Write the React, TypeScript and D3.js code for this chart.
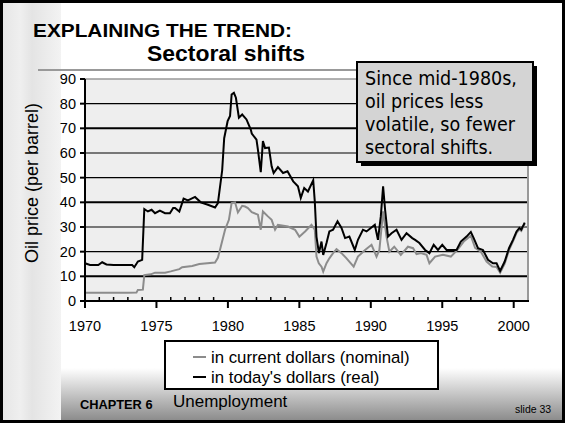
import React from 'react';
import * as d3 from 'd3';

// [year, $ per barrel]
const nominal: [number, number][] = [
  [1970.0, 3.3], [1971.0, 3.3], [1972.0, 3.3], [1973.0, 3.3], [1973.6, 3.4], [1973.7, 4.5],
  [1974.05, 4.6], [1974.15, 10.5], [1974.6, 10.8], [1974.9, 11.5], [1975.6, 11.5], [1976.0, 12.0],
  [1976.6, 12.9], [1976.8, 13.7], [1977.5, 14.2], [1978.0, 15.0], [1979.1, 15.6], [1979.3, 17.5],
  [1979.5, 22.0], [1979.8, 28.9], [1980.07, 32.9], [1980.26, 39.7], [1980.5, 40.0], [1980.7, 35.9],
  [1981.0, 38.6], [1981.2, 38.3], [1981.4, 37.7], [1981.67, 36.0], [1982.1, 35.0], [1982.3, 28.9],
  [1982.45, 36.3], [1982.8, 34.3], [1983.06, 32.9], [1983.3, 28.9], [1983.5, 30.9], [1984.2, 30.2],
  [1984.7, 28.9], [1985.0, 26.1], [1985.4, 28.2], [1985.85, 30.9], [1986.08, 28.9], [1986.2, 18.0],
  [1986.36, 15.3], [1986.55, 13.9], [1986.67, 11.9], [1986.9, 15.3], [1987.1, 17.3], [1987.36, 19.4],
  [1987.6, 21.0], [1987.95, 19.4], [1988.3, 17.3], [1988.8, 13.9], [1989.1, 18.0], [1989.6, 20.7],
  [1990.05, 22.8], [1990.4, 18.0], [1990.6, 20.7], [1990.86, 36.3], [1991.1, 26.1], [1991.3, 20.0],
  [1991.64, 22.0], [1992.1, 18.7], [1992.6, 22.0], [1992.96, 21.4], [1993.2, 19.0], [1993.5, 19.4],
  [1993.9, 18.7], [1994.1, 15.3], [1994.5, 18.0], [1995.05, 18.7], [1995.6, 18.0], [1996.06, 20.7],
  [1996.5, 24.1], [1997.0, 26.5], [1997.3, 21.5], [1997.7, 20.0], [1998.1, 16.0], [1998.5, 14.0],
  [1998.8, 13.8], [1999.05, 11.5], [1999.37, 15.2], [1999.67, 20.6], [1999.95, 24.2], [2000.2, 27.6],
  [2000.4, 29.0], [2000.53, 28.4], [2000.77, 31.4],
];

const real: [number, number][] = [
  [1970.0, 15.3], [1970.35, 14.6], [1970.93, 14.6], [1971.2, 15.7], [1971.5, 14.8], [1972.0, 14.6],
  [1972.7, 14.6], [1973.3, 14.6], [1973.45, 13.7], [1973.7, 16.0], [1974.0, 16.7], [1974.15, 37.3],
  [1974.4, 36.3], [1974.66, 37.0], [1974.9, 35.6], [1975.24, 36.6], [1975.6, 35.6], [1975.94, 35.6],
  [1976.17, 37.7], [1976.3, 37.7], [1976.6, 36.3], [1976.9, 41.5], [1977.2, 40.8], [1977.7, 42.2],
  [1978.1, 40.0], [1978.6, 39.0], [1979.1, 37.9], [1979.3, 39.7], [1979.6, 53.0], [1979.74, 66.0],
  [1979.98, 72.9], [1980.15, 75.0], [1980.26, 83.7], [1980.42, 84.4], [1980.56, 82.4], [1980.77, 74.3],
  [1981.0, 75.6], [1981.3, 73.6], [1981.6, 69.5], [1981.67, 67.9], [1982.0, 65.4], [1982.1, 61.4],
  [1982.3, 52.2], [1982.45, 64.8], [1982.6, 62.0], [1982.87, 62.2], [1983.06, 54.6], [1983.2, 51.9],
  [1983.5, 54.3], [1983.86, 51.9], [1984.17, 52.6], [1984.57, 48.5], [1984.9, 46.5], [1985.1, 41.8],
  [1985.34, 45.8], [1985.6, 44.4], [1985.97, 48.9], [1986.08, 40.4], [1986.2, 26.0], [1986.37, 19.4],
  [1986.55, 24.1], [1986.67, 18.7], [1986.9, 23.5], [1987.1, 28.2], [1987.36, 28.9], [1987.67, 32.3],
  [1987.95, 29.6], [1988.2, 25.5], [1988.5, 26.1], [1988.88, 20.7], [1989.1, 24.8], [1989.45, 28.9],
  [1989.7, 28.2], [1990.0, 29.6], [1990.28, 30.9], [1990.5, 24.8], [1990.7, 34.3], [1990.86, 46.5],
  [1991.0, 37.0], [1991.2, 26.1], [1991.45, 27.5], [1991.8, 28.9], [1992.15, 24.8], [1992.5, 27.5],
  [1992.9, 25.5], [1993.1, 24.8], [1993.4, 23.5], [1993.8, 20.7], [1994.1, 19.4], [1994.4, 22.8],
  [1994.7, 20.7], [1995.0, 22.8], [1995.3, 20.7], [1995.6, 20.7], [1996.0, 20.7], [1996.3, 24.1],
  [1996.7, 26.1], [1997.0, 28.0], [1997.2, 25.5], [1997.5, 21.4], [1997.85, 20.7], [1998.2, 16.7],
  [1998.55, 15.3], [1998.8, 15.3], [1999.05, 12.2], [1999.37, 16.0], [1999.67, 21.4], [1999.95, 24.8],
  [2000.2, 28.2], [2000.4, 29.6], [2000.53, 28.9], [2000.77, 31.8],
];

const yTicks = [0, 10, 20, 30, 40, 50, 60, 70, 80, 90];
const xMajor = [1970, 1975, 1980, 1985, 1990, 1995, 2000];
const noteLines = ['Since mid-1980s,', 'oil prices less', 'volatile, so fewer', 'sectoral shifts.'];
const legendItems = [
  { label: 'in current dollars (nominal)', color: '#8c8c8c' },
  { label: "in today's dollars (real)", color: '#000' },
];

const W = 566;
const H = 424;
const plot = { left: 85, right: 528, top: 79, bottom: 301 };
const arial = '"Liberation Sans", Arial, sans-serif';

export default function App() {
  const x = d3.scaleLinear().domain([1970, 2001]).range([plot.left, plot.right]);
  const y = d3.scaleLinear().domain([0, 90]).range([plot.bottom, plot.top]);
  const line = d3.line<[number, number]>().x(d => x(d[0])).y(d => y(d[1]));
  const minor = d3.range(1971, 2001).filter(v => v % 5 !== 0);

  return (
    <svg width={W} height={H} style={{ position: 'absolute', left: 0, top: 0 }}>
      <defs>
        <linearGradient id="strip" x1="0" x2="1" y1="0" y2="0">
          <stop offset="0" stopColor="#e6e6e6" />
          <stop offset="0.3" stopColor="#efefef" />
          <stop offset="0.5" stopColor="#e4e4e4" />
          <stop offset="1" stopColor="#f3f3f3" />
        </linearGradient>
        <linearGradient id="foot" x1="0" x2="0" y1="0" y2="1">
          <stop offset="0" stopColor="#fff" />
          <stop offset="1" stopColor="#8a8a8a" />
        </linearGradient>
      </defs>
      <rect x={0} y={0} width={W} height={H} fill="#fff" />
      <rect x={3} y={368} width={560} height={53} fill="url(#foot)" />
      <rect x={3} y={3} width={58} height={418} fill="url(#strip)" />
      <rect x={1.5} y={1.5} width={W - 4} height={H - 4} fill="none" stroke="#000" strokeWidth={3} />

      <text x={33} y={37} fontFamily={arial} fontWeight="bold" fontSize={19} textLength={259} lengthAdjust="spacingAndGlyphs">
        EXPLAINING THE TREND:
      </text>
      <text x={147} y={61} fontFamily={arial} fontWeight="bold" fontSize={21.5} textLength={158} lengthAdjust="spacingAndGlyphs">
        Sectoral shifts
      </text>
      <line x1={38} x2={360} y1={70} y2={70} stroke="#999" strokeWidth={2} />

      <rect x={plot.left} y={plot.top} width={plot.right - plot.left} height={plot.bottom - plot.top} fill="#eeeeee" />
      {yTicks.filter(v => v > 0 && v < 90).map(v => (
        <line key={v} x1={plot.left} x2={plot.right} y1={y(v)} y2={y(v)} stroke="#000" strokeWidth={v % 30 === 10 ? 2 : 1.2} />
      ))}
      <line x1={plot.left} x2={plot.right} y1={y(90)} y2={y(90)} stroke="#999" strokeWidth={1.5} />
      <line x1={plot.right} x2={plot.right} y1={plot.top} y2={plot.bottom} stroke="#999" strokeWidth={2} />

      <path d={line(nominal) || ''} fill="none" stroke="#8c8c8c" strokeWidth={2} />
      <path d={line(real) || ''} fill="none" stroke="#000" strokeWidth={2} />

      <line x1={plot.left} x2={plot.left} y1={plot.top} y2={plot.bottom} stroke="#000" strokeWidth={2} />
      <line x1={plot.left} x2={plot.right + 1} y1={plot.bottom} y2={plot.bottom} stroke="#000" strokeWidth={2} />
      {yTicks.map(v => (
        <g key={v}>
          <line x1={plot.left - 5} x2={plot.left} y1={y(v)} y2={y(v)} stroke="#000" strokeWidth={2} />
          <text x={plot.left - 9} y={y(v) + 5} fontFamily={arial} fontSize={14.5} textAnchor="end">{v}</text>
        </g>
      ))}
      {minor.map(v => (
        <line key={v} x1={x(v)} x2={x(v)} y1={plot.bottom - 4} y2={plot.bottom} stroke="#000" strokeWidth={1.5} />
      ))}
      {xMajor.map(v => (
        <g key={v}>
          <line x1={x(v)} x2={x(v)} y1={plot.bottom} y2={plot.bottom + 7} stroke="#000" strokeWidth={2} />
          <text x={x(v)} y={331} fontFamily={arial} fontSize={14.5} textAnchor="middle">{v}</text>
        </g>
      ))}
      <text transform="translate(38,183) rotate(-90)" fontFamily={arial} fontSize={18} textAnchor="middle">
        Oil price (per barrel)
      </text>

      <rect x={361} y={66} width={176} height={100} fill="#000" />
      <rect x={357} y={62} width={176} height={100} fill="#d4d4d4" stroke="#000" strokeWidth={2} />
      {noteLines.map((t, i) => (
        <text key={t} x={365} y={85 + i * 23} fontFamily='"DejaVu Sans Condensed", "DejaVu Sans", sans-serif' fontSize={19.5}>{t}</text>
      ))}

      <rect x={165} y={341} width={273} height={48} fill="#fff" stroke="#000" strokeWidth={2} />
      {legendItems.map((d, i) => (
        <g key={d.label}>
          <line x1={193} x2={206} y1={357 + i * 20} y2={357 + i * 20} stroke={d.color} strokeWidth={2} />
          <text x={211} y={363 + i * 20} fontFamily={arial} fontSize={16.8}>{d.label}</text>
        </g>
      ))}

      <text x={80} y={409} fontFamily={arial} fontWeight="bold" fontSize={12.8}>CHAPTER 6</text>
      <text x={173} y={407} fontFamily={arial} fontSize={17}>Unemployment</text>
      <text x={515} y={413} fontFamily={arial} fontSize={10.5}>slide 33</text>
    </svg>
  );
}
